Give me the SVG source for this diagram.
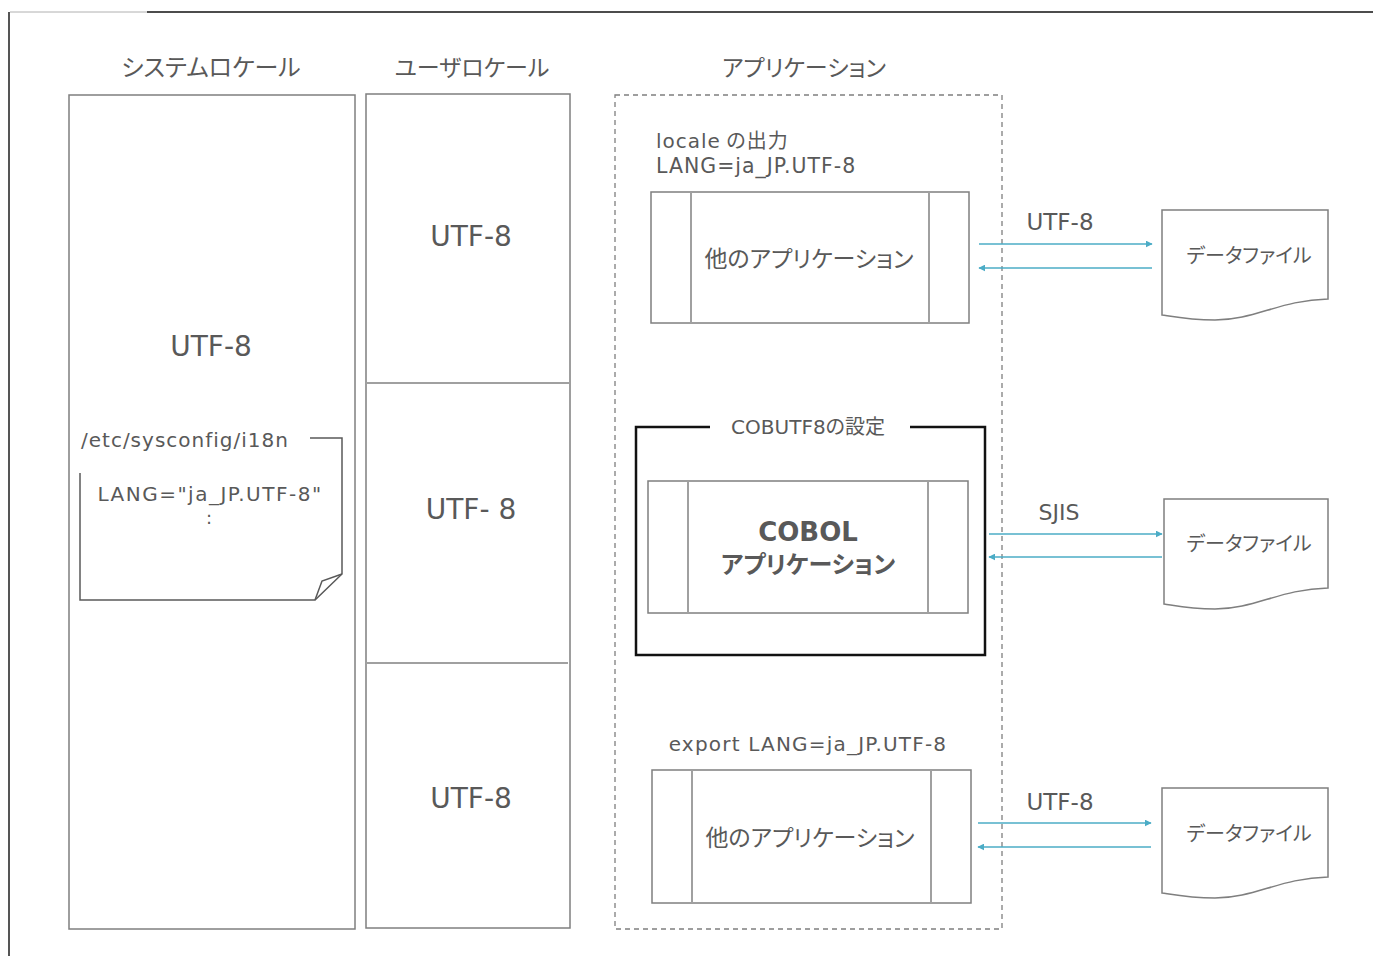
<svg xmlns="http://www.w3.org/2000/svg" width="1373" height="956" viewBox="0 0 1373 956">
<defs>
<style>
.t{font-family:"DejaVu Sans","Noto Sans CJK JP",sans-serif;fill:#595959;font-feature-settings:"palt";}
.s{letter-spacing:1px;}
.j{font-family:"Noto Sans CJK JP",sans-serif;fill:#595959;font-feature-settings:"palt";}
.box{fill:#fff;stroke:#7f7f7f;stroke-width:1.5;}
.div{stroke:#a0a0a0;stroke-width:2;fill:none;}
.con{stroke:#4bacc6;stroke-width:1.5;fill:none;}
</style>
<marker id="ah" viewBox="0 0 10 10" refX="9" refY="5" markerWidth="7" markerHeight="7" markerUnits="userSpaceOnUse" orient="auto">
<path d="M0,0 L10,5 L0,10 Z" fill="#4bacc6"/>
</marker>
</defs>
<rect width="1373" height="956" fill="#fff"/>
<g id="frame">
<line x1="10" y1="12" x2="147" y2="12" stroke="#b0b0b0" stroke-width="1"/>
<line x1="147" y1="12" x2="1373" y2="12" stroke="#111" stroke-width="1.5"/>
<line x1="9" y1="12" x2="9" y2="956" stroke="#555" stroke-width="2"/>
</g>
<g id="system-locale">
<text class="j" x="211" y="76" font-size="24" text-anchor="middle">システムロケール</text>
<rect class="box" x="69" y="95" width="286" height="834"/>
<text class="t" x="211" y="356" font-size="28" text-anchor="middle">UTF-8</text>
</g>
<g id="i18n-file">
<path d="M310,438 H342 V574 L315,600 H80 V473" fill="none" stroke="#595959" stroke-width="1.5"/>
<path d="M342,574 L322,581 L315,600" fill="none" stroke="#595959" stroke-width="1.5"/>
<text class="t s" x="81" y="447" font-size="20">/etc/sysconfig/i18n</text>
<text class="t" x="210" y="501" font-size="20" letter-spacing="1.5" text-anchor="middle">LANG="ja_JP.UTF-8"</text>
<text class="t" x="209" y="524" font-size="18" text-anchor="middle">:</text>
</g>
<g id="user-locale">
<text class="j" x="472" y="76" font-size="23" text-anchor="middle">ユーザロケール</text>
<rect class="box" x="366" y="94" width="204" height="834"/>
<line x1="366" y1="383" x2="570" y2="383" class="div" stroke="#8a8a8a"/>
<line x1="366" y1="663" x2="568" y2="663" class="div" stroke="#8a8a8a"/>
<text class="t" x="471" y="246" font-size="28" text-anchor="middle">UTF-8</text>
<text class="t" x="471" y="519" font-size="28" text-anchor="middle">UTF- 8</text>
<text class="t" x="471" y="808" font-size="28" text-anchor="middle">UTF-8</text>
</g>
<g id="application">
<text class="j" x="804" y="76" font-size="23" text-anchor="middle">アプリケーション</text>
<rect x="615" y="95" width="387" height="834" fill="none" stroke="#7f7f7f" stroke-width="1.3" stroke-dasharray="5,4"/>
</g>
<g id="app1">
<text class="t s" x="656" y="148" font-size="20">locale<tspan font-family="Noto Sans CJK JP"> の出力</tspan></text>
<text class="t s" x="656" y="173" font-size="20.5">LANG=ja_JP.UTF-8</text>
<rect class="box" x="651" y="192" width="318" height="131"/>
<line class="div" x1="691" y1="192" x2="691" y2="323"/>
<line class="div" x1="929" y1="192" x2="929" y2="323"/>
<text class="j" x="809" y="267" font-size="23" text-anchor="middle">他のアプリケーション</text>
</g>
<g id="cobutf8">
<path d="M710,427 H636 V655 H985 V427 H910" fill="none" stroke="#111" stroke-width="2.5"/>
<text class="t" x="808" y="434" font-size="20" text-anchor="middle">COBUTF8<tspan font-family="Noto Sans CJK JP">の設定</tspan></text>
</g>
<g id="cobol-app">
<rect class="box" x="648" y="481" width="320" height="132"/>
<line class="div" x1="688" y1="481" x2="688" y2="613"/>
<line class="div" x1="928" y1="481" x2="928" y2="613"/>
<text class="t" x="808" y="541" font-size="26" font-weight="bold" text-anchor="middle">COBOL</text>
<text class="j" x="808" y="573" font-size="24" font-weight="bold" text-anchor="middle">アプリケーション</text>
</g>
<g id="app3">
<text class="t" x="808" y="751" font-size="20" letter-spacing="1.2" text-anchor="middle">export LANG=ja_JP.UTF-8</text>
<rect class="box" x="652" y="770" width="319" height="133"/>
<line class="div" x1="692" y1="770" x2="692" y2="903"/>
<line class="div" x1="931" y1="770" x2="931" y2="903"/>
<text class="j" x="810" y="846" font-size="23" text-anchor="middle">他のアプリケーション</text>
</g>
<g id="datafile1">
<path class="box" d="M1162,210 H1328 V299 C1280,300 1255,320 1215,320 C1190,320 1175,317 1162,315 Z"/>
<text class="j" x="1249" y="263" font-size="20" text-anchor="middle">データファイル</text>
</g>
<g id="datafile2">
<path class="box" d="M1164,499 H1328 V588 C1280,589 1255,609 1215,609 C1190,609 1177,606 1164,604 Z"/>
<text class="j" x="1249" y="551" font-size="20" text-anchor="middle">データファイル</text>
</g>
<g id="datafile3">
<path class="box" d="M1162,788 H1328 V877 C1280,878 1255,898 1215,898 C1190,898 1175,895 1162,893 Z"/>
<text class="j" x="1249" y="841" font-size="20" text-anchor="middle">データファイル</text>
</g>
<g id="connectors">
<line class="con" x1="979" y1="244" x2="1152" y2="244" marker-end="url(#ah)"/>
<line class="con" x1="1152" y1="268" x2="979" y2="268" marker-end="url(#ah)"/>
<line class="con" x1="989" y1="534" x2="1162" y2="534" marker-end="url(#ah)"/>
<line class="con" x1="1162" y1="557" x2="989" y2="557" marker-end="url(#ah)"/>
<line class="con" x1="978" y1="823" x2="1151" y2="823" marker-end="url(#ah)"/>
<line class="con" x1="1151" y1="847" x2="978" y2="847" marker-end="url(#ah)"/>
<text class="t" x="1060" y="230" font-size="23" text-anchor="middle">UTF-8</text>
<text class="t" x="1059" y="520" font-size="22" text-anchor="middle">SJIS</text>
<text class="t" x="1060" y="810" font-size="23" text-anchor="middle">UTF-8</text>
</g>
</svg>
